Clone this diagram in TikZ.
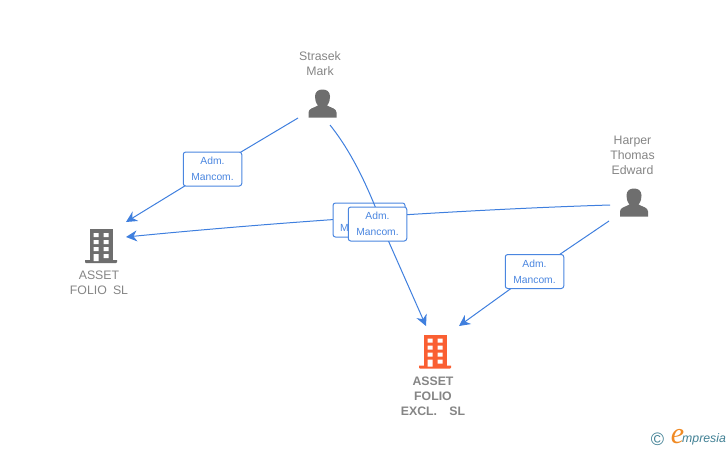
\documentclass[tikz,border=0pt]{standalone}
\usepackage{fontspec}
\setmainfont{Liberation Sans}
\newfontfamily\logoserif{Liberation Serif}
\usetikzlibrary{arrows.meta}
\definecolor{edgeblue}{HTML}{3F7FDE}
\definecolor{labelblue}{HTML}{4A86E0}
\definecolor{icongrey}{HTML}{6E6E6E}
\definecolor{textgrey}{HTML}{858585}
\definecolor{hotorange}{HTML}{FA5F32}
\definecolor{logoteal}{HTML}{3F7F93}
\definecolor{logoorange}{HTML}{F08A24}
\tikzset{
  link/.style={draw=edgeblue,line width=1pt},
  arrowlink/.style={link,-{Stealth[length=11pt,width=11pt,inset=3.5pt]}},
  rolebox/.style={draw=labelblue,line width=1pt,rounded corners=2.5pt,fill=white,
    minimum width=58.5pt,minimum height=34pt,inner sep=0pt,align=center,
    text=labelblue,font=\fontsize{10.3}{16}\selectfont},
  roletext/.style={text=labelblue,inner sep=0pt,align=center,font=\fontsize{10.3}{16}\selectfont},
  nametext/.style={text=textgrey,align=center,inner sep=0pt,font=\fontsize{12.3}{15}\selectfont},
  boldname/.style={nametext,font=\fontsize{12.3}{15}\selectfont\bfseries},
  building/.pic={
    \fill[pic actions] (-11.5,-17) rectangle (11.5,14);
    \fill[pic actions] (-16,14) -- (16,14) -- (16,16) -- (15,17) -- (-15,17) -- (-16,16) -- cycle;
    \fill[white] (-7.5,-13) rectangle (-2.5,-9) (2.5,-13) rectangle (7.5,-9)
                 (-7.5,-6) rectangle (-2.5,-2) (2.5,-6) rectangle (7.5,-2)
                 (-7.5,1) rectangle (-2.5,5) (2.5,1) rectangle (7.5,5)
                 (-7.5,8) rectangle (-2.5,15) (2.5,8) rectangle (7.5,12);
  },
  person/.pic={
    \fill[pic actions] (-14,14) -- (-14,9) .. controls (-14,5) and (-9,4.5) .. (-4.5,2)
      .. controls (-7,-1) and (-7.5,-4) .. (-7.5,-7) .. controls (-7.5,-12) and (-4,-14) .. (0,-14)
      .. controls (4,-14) and (7.5,-12) .. (7.5,-7) .. controls (7.5,-4) and (7,-1) .. (4.5,2)
      .. controls (9,4.5) and (14,5) .. (14,9) -- (14,14) -- cycle;
  },
}
\begin{document}
\begin{tikzpicture}[x=1pt,y=-1pt]
\useasboundingbox (0,0) rectangle (728,450);
% icons
\pic[fill=icongrey] at (322.5,103.5) {person};
\pic[fill=icongrey] at (634,202.5) {person};
\pic[fill=icongrey] at (101,246) {building};
\pic[fill=hotorange] at (435,351.5) {building};
% names
\node[nametext] (strasek) at (320,63.5) {Strasek\\Mark};
\node[nametext] (harper) at (632.5,155) {Harper\\Thomas\\Edward};
\node[nametext] (folio) at (99,283) {ASSET\\FOLIO\hspace{0.5em}SL};
\node[boldname] (excl) at (433,396) {ASSET\\FOLIO\\EXCL.\hspace{1em}SL};
% connector ends
\coordinate (sA) at (298,118);
\coordinate (sB) at (330,125);
\coordinate (hA) at (610,205);
\coordinate (hB) at (609,221);
\coordinate (fA) at (126,222);
\coordinate (fB) at (126,237);
\coordinate (eA) at (426,326);
\coordinate (eB) at (459,326);
\coordinate (r1) at (212.5,169);
\coordinate (r4) at (534.5,271.5);
\draw[link] (sA) -- (r1);
\draw[arrowlink] (r1) -- (fA);
\draw[link] (hB) -- (r4);
\draw[arrowlink] (r4) -- (eB);
\draw[arrowlink] (hA) .. controls (480,209) and (300,220) .. (fB);
\node[rolebox,minimum width=72pt] (r2) at (369,220) {};
\node[roletext,anchor=west] (r2text) at (340,228) {M};
\draw[arrowlink] (sB) .. controls (358,160) and (375,205) .. (388,240) -- (eA);
\node[rolebox] (r3) at (377.5,224) {Adm.\hspace{4pt}\\Mancom.};
\node[rolebox] (box1) at (212.5,169) {Adm.\hspace{4pt}\\Mancom.};
\node[rolebox] (box4) at (534.5,271.5) {Adm.\hspace{4pt}\\Mancom.};
% logo
\node[text=logoteal,inner sep=0pt,font=\fontsize{18}{18}\selectfont] (copy) at (657.5,439) {©};
\node[text=logoorange,inner sep=0pt,font=\logoserif\fontsize{30}{30}\selectfont\itshape] (elogo) at (677.5,437) {e};
\node[text=logoteal,inner sep=0pt,anchor=west,font=\fontsize{12.3}{13}\selectfont\itshape] (mpresia) at (682,439) {mpresia};
\end{tikzpicture}
\end{document}
